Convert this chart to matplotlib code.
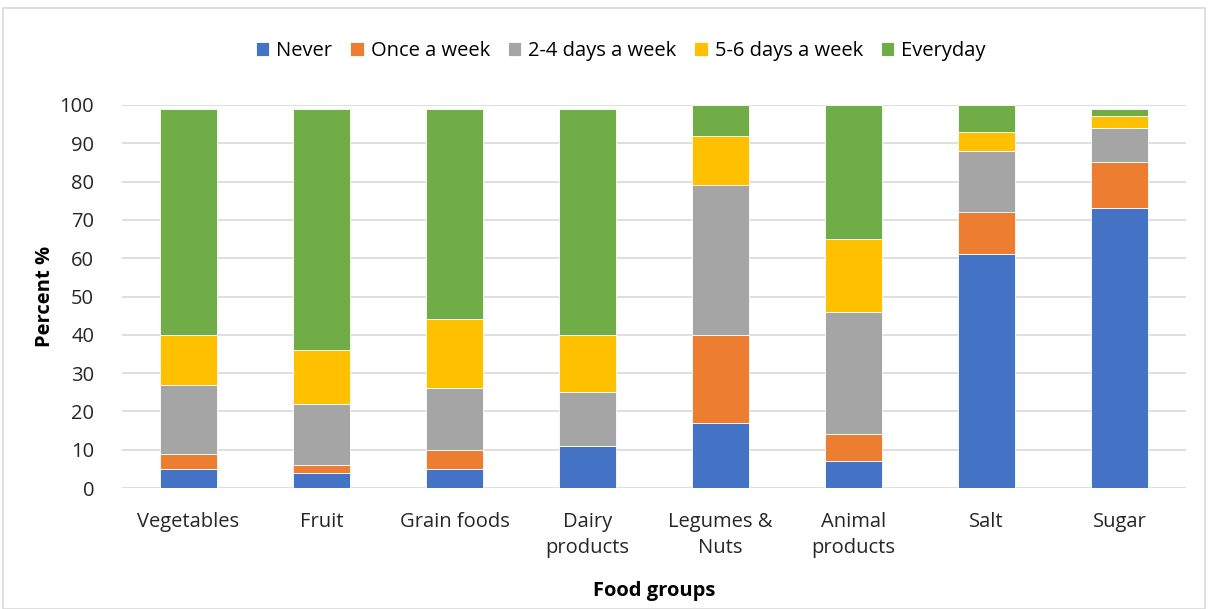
import numpy as np
import matplotlib.pyplot as plt
from matplotlib.patches import Rectangle

plt.rcParams['font.family'] = ['Open Sans', 'DejaVu Sans']

categories = ['Vegetables', 'Fruit', 'Grain foods', 'Dairy\nproducts', 'Legumes &\nNuts',
              'Animal\nproducts', 'Salt', 'Sugar']
series_names = ['Never', 'Once a week', '2-4 days a week', '5-6 days a week', 'Everyday']
never = [5, 4, 5, 11, 17, 7, 61, 73]
once_week = [4, 2, 5, 0, 23, 7, 11, 12]
days_2_4 = [18, 16, 16, 14, 39, 32, 16, 9]
days_5_6 = [13, 14, 18, 15, 13, 19, 5, 3]
everyday = [59, 63, 55, 59, 8, 35, 7, 2]
colors = ['#4472C4', '#ED7D31', '#A5A5A5', '#FFC000', '#70AD47']


def main():
    fig = plt.figure(figsize=(12.08, 6.09), dpi=100)
    ax = fig.add_axes([122 / 1208, 1 - 488 / 609, 1064 / 1208, 383 / 609])

    x = np.arange(len(categories))
    bottom = np.zeros(len(categories))
    for name, vals, c in zip(series_names, [never, once_week, days_2_4, days_5_6, everyday], colors):
        ax.bar(x, vals, 0.43, bottom=bottom, color=c, label=name,
               edgecolor='white', linewidth=0.6, zorder=3)
        bottom += np.array(vals)

    ax.set_xlim(-0.5, len(categories) - 0.5)
    ax.set_ylim(0, 100)
    ax.set_yticks(range(0, 101, 10))
    ax.grid(axis='y', color='#D9D9D9', linewidth=1.2, zorder=0)
    ax.set_xticks(x)
    ax.set_xticklabels(categories, fontsize=14.5, color='#262626', linespacing=1.45)
    ax.tick_params(axis='both', length=0, labelsize=14.5, labelcolor='#262626')
    ax.tick_params(axis='x', pad=17)
    ax.tick_params(axis='y', pad=20)
    for s in ax.spines.values():
        s.set_visible(False)

    ax.set_ylabel('Percent %', fontsize=14.5, fontweight='bold', labelpad=3)
    ax.set_xlabel('Food groups', fontsize=14.5, fontweight='bold', labelpad=16)

    ax.legend(loc='center', bbox_to_anchor=(0.514, 1 - 51 / 609), bbox_transform=fig.transFigure,
              ncol=5, frameon=False, fontsize=14.5, handlelength=0.65, handleheight=0.75,
              handletextpad=0.35, columnspacing=0.9)

    # outer chart border
    fig.patches.append(Rectangle((3 / 1208, 0), 1202 / 1208, 1 - 8 / 609, transform=fig.transFigure,
                                 fill=False, edgecolor='#D9D9D9', linewidth=1.2))

    fig.savefig('out.png', dpi=100)


main()
